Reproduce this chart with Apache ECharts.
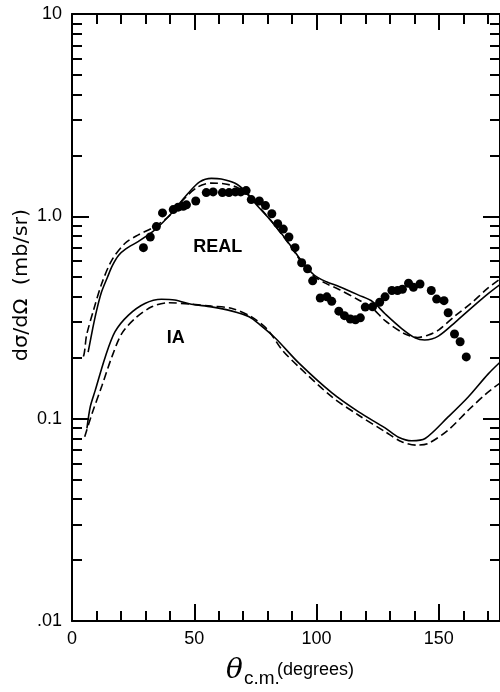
<!DOCTYPE html>
<html>
<head>
<meta charset="utf-8">
<script src="https://cdn.jsdelivr.net/npm/echarts@6/dist/echarts.min.js"></script>
<style>
  html, body { margin: 0; padding: 0; background: #fff; }
  #chart { width: 500px; height: 692px; }
</style>
</head>
<body>
<div id="chart"></div>
<script>
// Measured cross sections: [theta c.m. (deg), dsigma/dOmega (mb/sr)]
const measured = [
  [29.2, 0.70], [32.0, 0.79], [34.5, 0.89], [37.0, 1.04], [41.4, 1.08],
  [43.4, 1.11], [45.5, 1.12], [46.8, 1.14], [50.6, 1.19], [54.9, 1.31],
  [57.7, 1.32], [61.5, 1.31], [64.2, 1.31], [66.8, 1.32], [69.0, 1.32],
  [71.2, 1.34], [73.3, 1.21], [76.6, 1.19], [79.1, 1.13], [81.7, 1.03],
  [84.1, 0.92], [86.4, 0.865], [88.7, 0.79], [91.2, 0.70], [93.9, 0.59],
  [96.3, 0.55], [98.4, 0.48], [101.5, 0.395], [104.2, 0.40], [106.2, 0.38],
  [109.1, 0.34], [111.4, 0.323], [113.8, 0.311], [115.9, 0.308], [117.9, 0.315],
  [119.9, 0.356], [122.9, 0.357], [125.8, 0.376], [128.0, 0.40], [130.8, 0.43],
  [133.1, 0.43], [135.1, 0.436], [137.6, 0.467], [139.6, 0.446], [142.3, 0.463],
  [146.9, 0.43], [149.1, 0.39], [152.1, 0.383], [153.8, 0.334], [156.4, 0.262],
  [158.7, 0.240], [161.2, 0.202]
];

// Calculation with the real potential, two variants (solid / dashed)
const realSolid = [
  [6.6, 0.213], [8.5, 0.28], [10, 0.34], [12, 0.42], [14.5, 0.50], [16.5, 0.57],
  [19, 0.64], [22, 0.69], [27, 0.75], [33, 0.84], [37, 0.93], [40.7, 1.035],
  [44, 1.16], [47.5, 1.30], [52.2, 1.48], [57, 1.54], [61, 1.53], [66.5, 1.46],
  [71.2, 1.32], [74.6, 1.17], [81.4, 0.95], [88.2, 0.749], [93.6, 0.608],
  [99.0, 0.513], [104, 0.475], [109.4, 0.449], [117.2, 0.408], [122.9, 0.379],
  [128, 0.33], [134.8, 0.279], [140.5, 0.250], [144.2, 0.245], [149.8, 0.256],
  [157, 0.302], [163, 0.35], [170.3, 0.416], [175, 0.46]
];
const realDashed = [
  [0, 0.2], [4.1, 0.2], [6, 0.26], [8.8, 0.344], [12.2, 0.467], [16.3, 0.608],
  [21.7, 0.736], [27.1, 0.81], [32.6, 0.873], [39.4, 0.995], [46.1, 1.23],
  [51.6, 1.40], [57, 1.46], [62, 1.45], [67, 1.40], [71.2, 1.30], [75, 1.17],
  [81.4, 0.95], [88.2, 0.745], [93.6, 0.60], [99, 0.505], [104, 0.465],
  [109.4, 0.434], [117.2, 0.386], [122.9, 0.351], [128, 0.305], [136.2, 0.262],
  [141.3, 0.252], [145.7, 0.259], [150, 0.275], [157, 0.325], [163, 0.37],
  [169.9, 0.44], [175, 0.49]
];

// Impulse-approximation calculation, two variants (solid / dashed)
const iaSolid = [
  [6.1, 0.0895], [7.5, 0.115], [9.5, 0.138], [13.6, 0.202], [17.6, 0.269],
  [23.1, 0.325], [29.8, 0.371], [36.6, 0.389], [42, 0.386], [48.8, 0.368],
  [57, 0.357], [65.1, 0.341], [72.4, 0.319], [77, 0.29], [83.3, 0.249],
  [92.8, 0.188], [106.3, 0.134], [117.2, 0.108], [128, 0.090], [133.5, 0.081],
  [138.9, 0.0778], [144.4, 0.0798], [153.8, 0.102], [162, 0.128],
  [170.1, 0.166], [175, 0.19]
];
const iaDashed = [
  [5.2, 0.0814], [8.2, 0.106], [12.2, 0.145], [16.3, 0.202], [20.4, 0.264],
  [25.8, 0.313], [32.6, 0.357], [39.4, 0.374], [48.8, 0.368], [57, 0.360],
  [65.1, 0.351], [73.3, 0.319], [80, 0.275], [86, 0.218], [92.8, 0.180],
  [106.3, 0.128], [117.2, 0.104], [128.1, 0.0861], [134.8, 0.0769],
  [140.9, 0.0740], [145.7, 0.0755], [153.8, 0.0879], [162, 0.110],
  [169.4, 0.133], [175, 0.15]
];

// Curve tags placed in data coordinates
const curveTags = [
  { name: 'REAL', value: [59.6, 0.705] },
  { name: 'IA', value: [42.4, 0.25] }
];

// Axis tick positions
const xMajorTicks = [0, 50, 100, 150];
const xMinorTicks = [10, 20, 30, 40, 60, 70, 80, 90, 110, 120, 130, 140, 160, 170];
const yMajorTicks = [0.01, 0.1, 1, 10];
const yMinorTicks = [];
[0.01, 0.1, 1].forEach(function (d) {
  for (let k = 2; k <= 9; k++) yMinorTicks.push(+(k * d).toPrecision(3));
});
const yTickText = { '-2': '.01', '-1': '0.1', '0': '1.0', '1': '10' };

const INK = '#000';
const NUM_FONT = 'Liberation Sans';

function xAxisDef(position, ticks, len, showLine, showLabels) {
  return {
    type: 'value', position: position, min: 0, max: 175,
    axisLine: { show: showLine, onZero: false, lineStyle: { color: INK, width: 2 } },
    axisTick: { show: true, inside: true, length: len, customValues: ticks,
                lineStyle: { color: INK, width: 2 } },
    axisLabel: showLabels ? {
      show: true, customValues: ticks, margin: 9, color: INK,
      fontFamily: NUM_FONT, fontSize: 18
    } : { show: false },
    splitLine: { show: false }
  };
}

function yAxisDef(position, ticks, len, showLine, showLabels) {
  return {
    type: 'log', logBase: 10, position: position, min: 0.01, max: 10,
    axisLine: { show: showLine, onZero: false, lineStyle: { color: INK, width: 2 } },
    axisTick: { show: true, inside: true, length: len, customValues: ticks,
                lineStyle: { color: INK, width: 2 } },
    axisLabel: showLabels ? {
      show: true, customValues: ticks, margin: 10, color: INK,
      fontFamily: NUM_FONT, fontSize: 18,
      formatter: function (v) { return yTickText[String(Math.round(Math.log10(v)))]; }
    } : { show: false },
    splitLine: { show: false }
  };
}

function curve(data, dashed) {
  return {
    type: 'line', data: data, xAxisIndex: 0, yAxisIndex: 0,
    symbol: 'none', smooth: 0.3, silent: true,
    lineStyle: { color: INK, width: 1.6, type: dashed ? [8, 4] : 'solid' }
  };
}

const chart = echarts.init(document.getElementById('chart'));
chart.setOption({
  animation: false,
  backgroundColor: '#fff',
  grid: { left: 72, right: -1, top: 14, bottom: 71, containLabel: false },
  xAxis: [
    xAxisDef('bottom', xMajorTicks, 17, true, true),
    xAxisDef('bottom', xMinorTicks, 10, false, false),
    xAxisDef('top', xMajorTicks.slice(1), 16, true, false),
    xAxisDef('top', xMinorTicks, 10, false, false)
  ],
  yAxis: [
    yAxisDef('left', yMajorTicks, 17, true, true),
    yAxisDef('left', yMinorTicks, 10, false, false),
    yAxisDef('right', yMajorTicks, 17, true, false),
    yAxisDef('right', yMinorTicks, 10, false, false)
  ],
  series: [
    curve(realSolid, false),
    curve(realDashed, true),
    curve(iaSolid, false),
    curve(iaDashed, true),
    {
      type: 'scatter', data: measured, xAxisIndex: 0, yAxisIndex: 0,
      symbol: 'circle', symbolSize: 9, silent: true,
      itemStyle: { color: INK, opacity: 1 }
    },
    {
      type: 'scatter', data: curveTags, xAxisIndex: 0, yAxisIndex: 0,
      symbolSize: 0, silent: true,
      itemStyle: { color: INK, opacity: 1 },
      label: {
        show: true, position: 'inside', formatter: '{b}', color: INK,
        fontFamily: NUM_FONT, fontSize: 18, fontWeight: 'bold'
      }
    }
  ],
  graphic: [
    {
      type: 'text', x: 22, y: 285, rotation: Math.PI / 2, scaleX: 1.1,
      style: {
        text: 'dσ/dΩ  (mb/sr)', fill: INK, font: '19px "DejaVu Sans"',
        align: 'center', verticalAlign: 'middle'
      }
    },
    {
      type: 'text', x: 226, y: 671,
      style: {
        text: 'θ', fill: INK, font: 'italic 28px "DejaVu Serif"',
        align: 'left', verticalAlign: 'middle'
      }
    },
    {
      type: 'text', x: 244, y: 679,
      style: {
        text: 'c.m.', fill: INK, font: '19px "Liberation Sans"',
        align: 'left', verticalAlign: 'middle'
      }
    },
    {
      type: 'text', x: 277, y: 670,
      style: {
        text: '(degrees)', fill: INK, font: '18px "Liberation Sans"',
        align: 'left', verticalAlign: 'middle'
      }
    }
  ]
});
</script>
</body>
</html>
